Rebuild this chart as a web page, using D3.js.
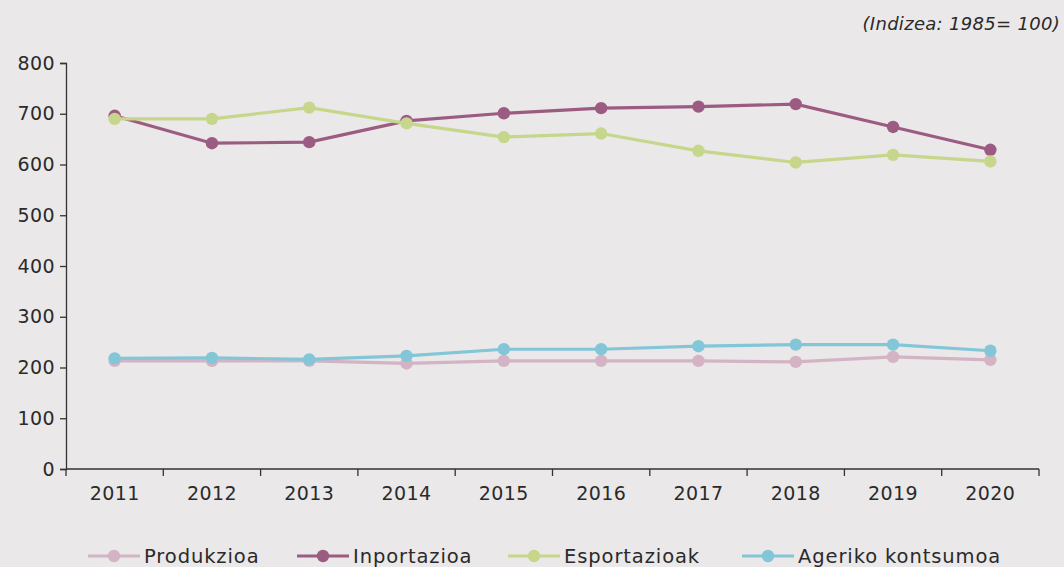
<!DOCTYPE html>
<html><head><meta charset="utf-8">
<script src="https://cdn.jsdelivr.net/npm/d3@7"></script>
<style>
html,body{margin:0;padding:0;background:#eae8e9;}
svg{display:block;}
text{font-family:"DejaVu Sans",sans-serif;fill:#2a2a2a;}
</style></head>
<body><svg id="c" width="1064" height="567"></svg>
<script>
const years = ["2011","2012","2013","2014","2015","2016","2017","2018","2019","2020"];
const seriesNames = ["Produkzioa","Inportazioa","Esportazioak","Ageriko kontsumoa"];
const produkzioa = [213,213,213,208,213,213,213,211,221,215];
const inportazioa = [696,642,644,686,701,711,714,719,674,629];
const esportazioak = [690,690,712,681,654,661,627,604,619,606];
const ageriko = [218,219,216,223,236,236,242,245,245,233];
const yTicks = [0,100,200,300,400,500,600,700,800];
const colors = ["#d4b4c4","#9c5c82","#c6d68a","#82c6d8"];
const subtitle = "(Indizea: 1985= 100)";

(function(){
const series = [produkzioa, inportazioa, esportazioak, ageriko];
const svg = d3.select("#c");
const mLeft = 66, mRight = 1039, mTop = 63, mBottom = 469;

const x = d3.scaleBand().domain(years).range([mLeft, mRight]);
const y = d3.scaleLinear().domain([0, 800]).range([mBottom, mTop]);

const yAxis = svg.append("g").attr("transform", `translate(${mLeft},0)`)
  .call(d3.axisLeft(y).tickValues(yTicks).tickSize(6).tickPadding(5));
const xAxis = svg.append("g").attr("transform", `translate(0,${mBottom})`)
  .call(d3.axisBottom(x).tickSize(0).tickPadding(18));
[yAxis, xAxis].forEach(g => {
  g.select(".domain").attr("stroke", "#333").attr("stroke-width", 1.3);
  g.selectAll(".tick line").attr("stroke", "#333").attr("stroke-width", 1.3);
  g.selectAll("text").style("font-size", "19px").style("letter-spacing", "0.4px").attr("fill", "#2a2a2a");
});
const bounds = years.map(d => x(d)).concat([mRight]);
xAxis.selectAll(".btick").data(bounds).enter().append("line")
  .attr("x1", d => d).attr("x2", d => d).attr("y1", 0).attr("y2", 7)
  .attr("stroke", "#333").attr("stroke-width", 1.3);
xAxis.select(".domain").attr("d", `M${mLeft},0H${mRight}`);

const line = d3.line().x((d, i) => x(years[i]) + x.bandwidth() / 2).y(d => y(d));
series.forEach((s, k) => {
  const g = svg.append("g");
  g.append("path").datum(s).attr("d", line).attr("fill", "none")
    .attr("stroke", colors[k]).attr("stroke-width", 3.2);
  g.selectAll("circle").data(s).enter().append("circle")
    .attr("cx", (d, i) => x(years[i]) + x.bandwidth() / 2)
    .attr("cy", d => y(d)).attr("r", 6.2).attr("fill", colors[k]);
});

svg.append("text").attr("x", 1060).attr("y", 30).attr("text-anchor", "end")
  .style("font-size", "18px").style("font-style", "italic").style("letter-spacing", "0.3px").text(subtitle);

const legX = [88, 297, 508, 742];
const legY = 556;
seriesNames.forEach((n, k) => {
  const g = svg.append("g").attr("transform", `translate(${legX[k]},${legY})`);
  g.append("line").attr("x1", 0).attr("x2", 52).attr("y1", 0).attr("y2", 0)
    .attr("stroke", colors[k]).attr("stroke-width", 3.2);
  g.append("circle").attr("cx", 26).attr("cy", 0).attr("r", 6.2).attr("fill", colors[k]);
  g.append("text").attr("x", 56).attr("y", 7).style("font-size", "19.5px").style("letter-spacing", "0.9px").text(n);
});
})();
</script></body></html>
